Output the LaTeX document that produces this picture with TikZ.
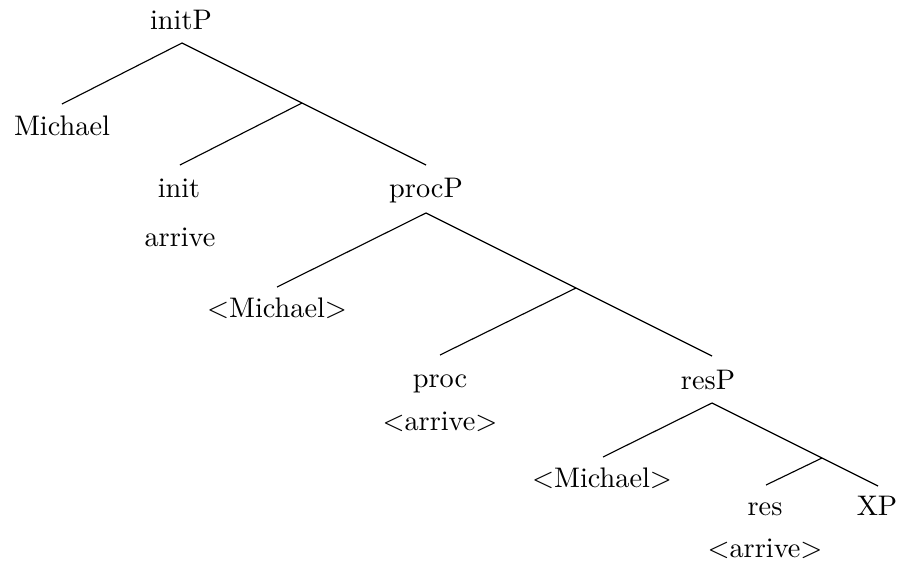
\documentclass[tikz,border=0pt]{standalone}
\begin{document}
\begin{tikzpicture}[x=0.3534pt,y=-0.3534pt,
  lbl/.style={anchor=base,inner sep=0pt,font=\fontsize{10pt}{12pt}\selectfont},
  edge/.style={line width=0.4pt}]
\useasboundingbox (0,0) rectangle (897,564);
% labels
\node[lbl] (initP) at (181,29) {initP};
\node[lbl] (michaelA) at (62,135) {Michael};
\node[lbl] (init) at (179,197) {init};
\node[lbl] (arriveA) at (180,246) {arrive};
\node[lbl] (procP) at (426,197) {procP};
\node[lbl] (michaelB) at (277,317) {$<$Michael$>$};
\node[lbl] (proc) at (440,387) {proc};
\node[lbl] (arriveB) at (440,430) {$<$arrive$>$};
\node[lbl] (resP) at (708,389) {resP};
\node[lbl] (michaelC) at (602,487) {$<$Michael$>$};
\node[lbl] (res) at (765,515) {res};
\node[lbl] (XP) at (877,515) {XP};
\node[lbl] (arriveC) at (765,557) {$<$arrive$>$};
% branch points
\coordinate (initP-t) at (182,43);
\coordinate (michaelA-t) at (62,104);
\coordinate (initbar) at (302,103);
\coordinate (init-t) at (180,165);
\coordinate (procP-b) at (426,165);
\coordinate (procP-t) at (426,213);
\coordinate (michaelB-t) at (277,287);
\coordinate (procbar) at (576,288);
\coordinate (proc-t) at (440,355);
\coordinate (resP-b) at (712,356);
\coordinate (resP-t) at (712,403);
\coordinate (michaelC-t) at (603,457);
\coordinate (resbar) at (822,458);
\coordinate (res-t) at (766,485);
\coordinate (XP-t) at (878,486);
% edges
\draw[edge] (michaelA-t) -- (initP-t) -- (initbar) -- (procP-b);
\draw[edge] (initbar) -- (init-t);
\draw[edge] (michaelB-t) -- (procP-t) -- (procbar) -- (resP-b);
\draw[edge] (procbar) -- (proc-t);
\draw[edge] (michaelC-t) -- (resP-t) -- (resbar) -- (XP-t);
\draw[edge] (resbar) -- (res-t);
\end{tikzpicture}
\end{document}
